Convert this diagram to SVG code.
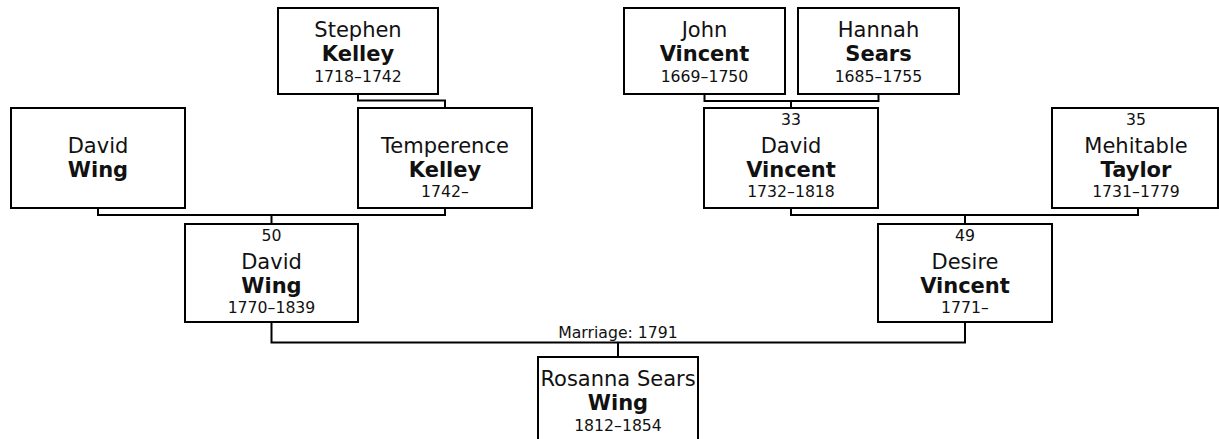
<svg xmlns="http://www.w3.org/2000/svg" width="1219" height="439" viewBox="0 0 1219 439">
<style>
.box{fill:#fff;stroke:#000;stroke-width:2}
.con{fill:none;stroke:#000;stroke-width:2}
text{font-family:"DejaVu Sans","Liberation Sans",sans-serif;fill:#111;text-anchor:middle}
.nm{font-size:21px}
.sn{font-size:21px;font-weight:bold}
.sm{font-size:15.7px}
</style>
<rect width="1219" height="439" fill="#fff"/>
<g id="connectors">
<path class="con" d="M358,94 V100.5 H445 V108"/>
<path class="con" d="M704.5,94 V101 H878.5 V94 M791,101 V108"/>
<path class="con" d="M98,208 V215 H445 V208 M271.5,215 V224"/>
<path class="con" d="M791,208 V215 H1138 V208 M965,215 V224"/>
<path class="con" d="M271.5,322 V342.5 H965 V322 M618,342.5 V357"/>
<text class="sm" x="618" y="338">Marriage: 1791</text>
</g>
<g id="stephen-kelley">
<rect class="box" x="278" y="8" width="160" height="86"/>
<text class="nm" x="358" y="37">Stephen</text>
<text class="sn" x="358" y="61">Kelley</text>
<text class="sm" x="358" y="82">1718–1742</text>
</g>
<g id="john-vincent">
<rect class="box" x="624" y="8" width="161" height="86"/>
<text class="nm" x="704.5" y="37">John</text>
<text class="sn" x="704.5" y="61">Vincent</text>
<text class="sm" x="704.5" y="82">1669–1750</text>
</g>
<g id="hannah-sears">
<rect class="box" x="798" y="8" width="161" height="86"/>
<text class="nm" x="878.5" y="37">Hannah</text>
<text class="sn" x="878.5" y="61">Sears</text>
<text class="sm" x="878.5" y="82">1685–1755</text>
</g>
<g id="david-wing-sr">
<rect class="box" x="11" y="108" width="174" height="100"/>
<text class="nm" x="98" y="153">David</text>
<text class="sn" x="98" y="177">Wing</text>
</g>
<g id="temperence-kelley">
<rect class="box" x="358" y="108" width="174" height="100"/>
<text class="nm" x="445" y="153">Temperence</text>
<text class="sn" x="445" y="177">Kelley</text>
<text class="sm" x="445" y="197">1742–</text>
</g>
<g id="david-vincent">
<rect class="box" x="704" y="108" width="174" height="100"/>
<text class="sm" x="791" y="125">33</text>
<text class="nm" x="791" y="153">David</text>
<text class="sn" x="791" y="177">Vincent</text>
<text class="sm" x="791" y="197">1732–1818</text>
</g>
<g id="mehitable-taylor">
<rect class="box" x="1052" y="108" width="166" height="100"/>
<text class="sm" x="1136" y="125">35</text>
<text class="nm" x="1136" y="153">Mehitable</text>
<text class="sn" x="1136" y="177">Taylor</text>
<text class="sm" x="1136" y="197">1731–1779</text>
</g>
<g id="david-wing">
<rect class="box" x="185" y="224" width="173" height="98"/>
<text class="sm" x="271.5" y="241">50</text>
<text class="nm" x="271.5" y="269">David</text>
<text class="sn" x="271.5" y="293">Wing</text>
<text class="sm" x="271.5" y="313">1770–1839</text>
</g>
<g id="desire-vincent">
<rect class="box" x="878" y="224" width="174" height="98"/>
<text class="sm" x="965" y="241">49</text>
<text class="nm" x="965" y="269">Desire</text>
<text class="sn" x="965" y="293">Vincent</text>
<text class="sm" x="965" y="313">1771–</text>
</g>
<g id="rosanna-sears-wing">
<rect class="box" x="538" y="357" width="160" height="86"/>
<text class="nm" x="618" y="386">Rosanna Sears</text>
<text class="sn" x="618" y="410">Wing</text>
<text class="sm" x="618" y="431">1812–1854</text>
</g>
</svg>
